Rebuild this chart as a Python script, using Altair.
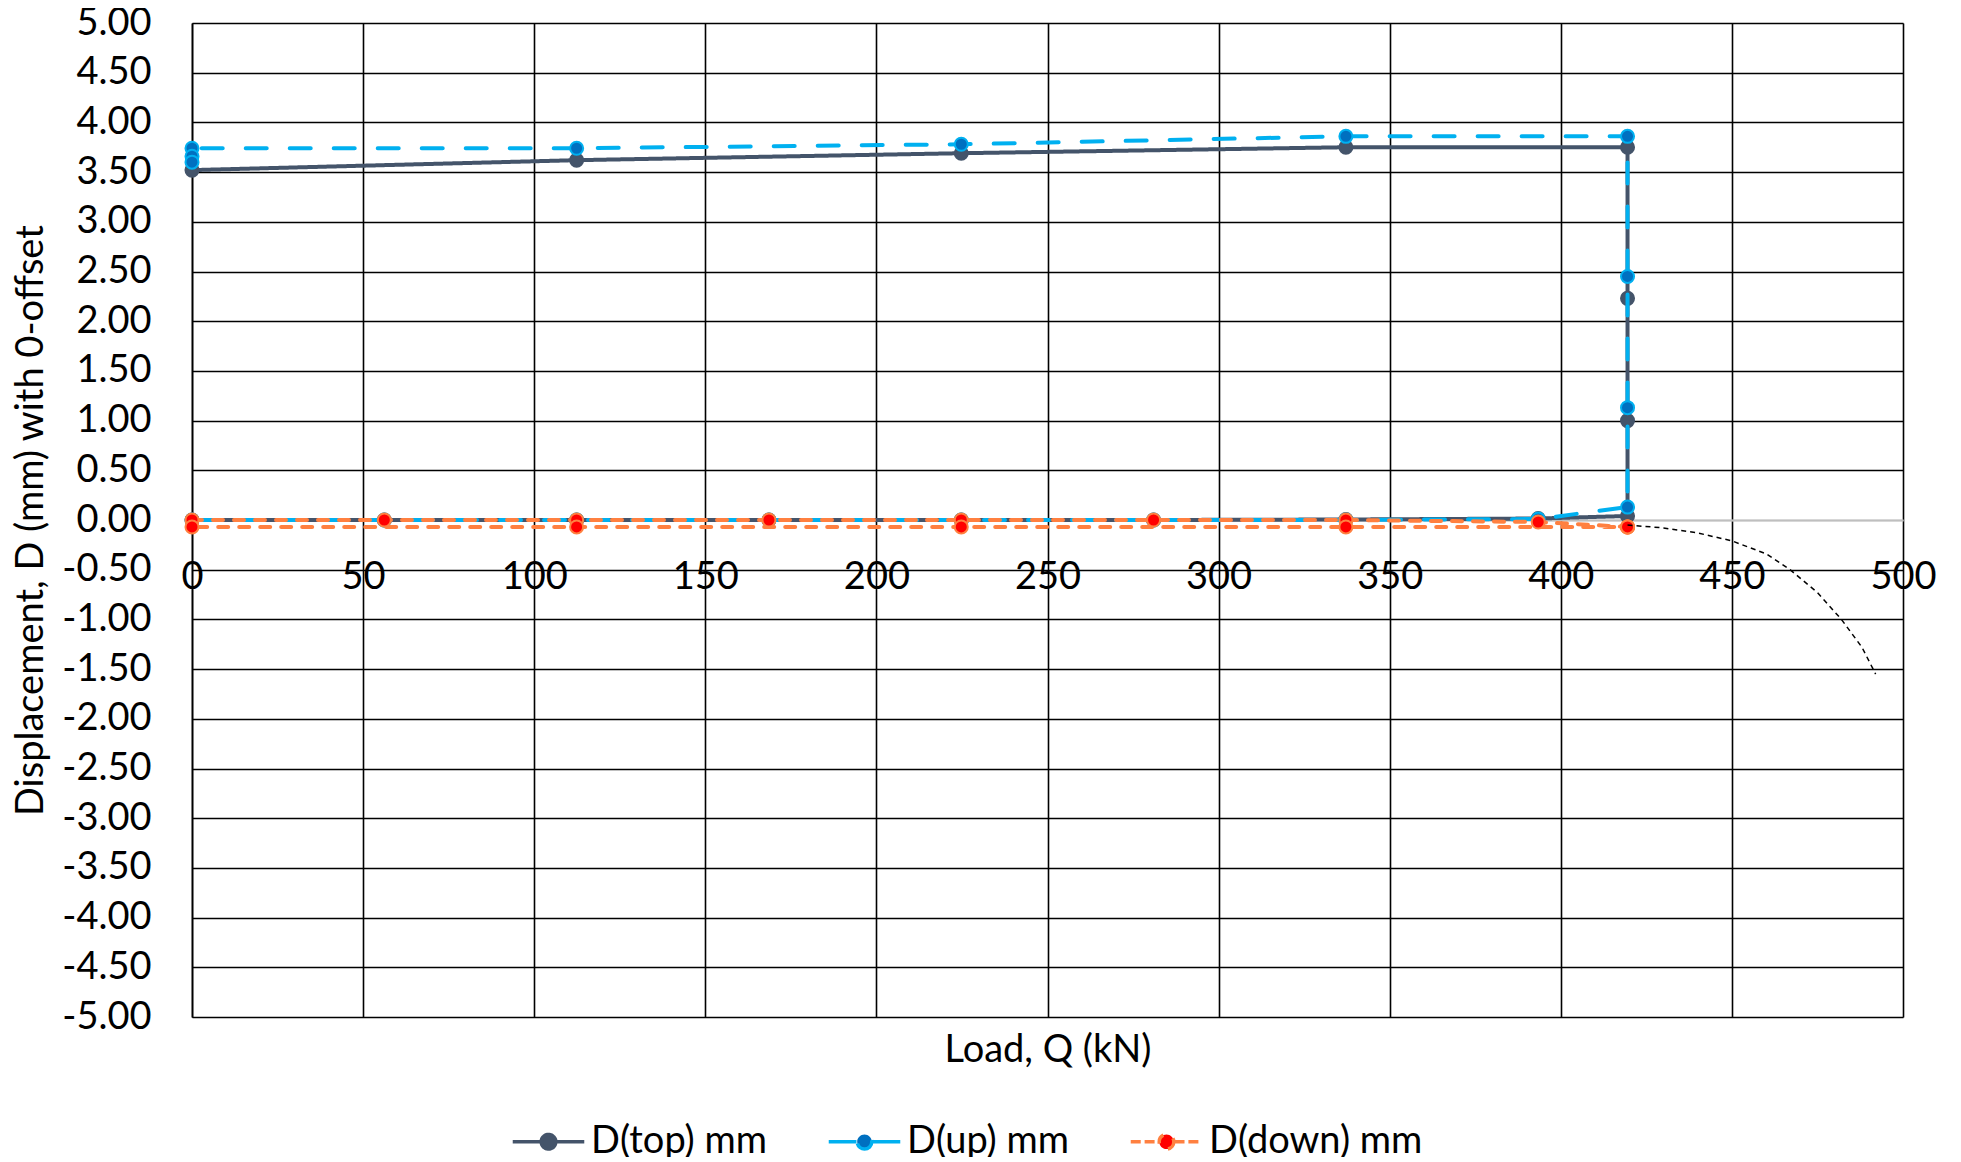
import altair as alt
import pandas as pd

# ---------------- data ----------------
SERIES = ["D(top) mm", "D(up) mm", "D(down) mm"]

TOP_LOAD = [0, 56.2, 112.4, 168.6, 224.8, 281.0, 337.2, 393.4, 419.5, 419.5, 419.5, 419.5, 337.2, 224.8, 112.4, 0]
TOP_DISP = [0, 0, 0, 0, 0, 0, 0.005, 0.015, 0.04, 1.00, 2.23, 3.75, 3.75, 3.69, 3.62, 3.52]

UP_LOAD = [0, 56.2, 112.4, 168.6, 224.8, 281.0, 337.2, 393.4, 419.5, 419.5, 419.5, 419.5, 337.2, 224.8, 112.4, 0, 0, 0]
UP_DISP = [0, 0, 0, 0, 0, 0, 0, 0.01, 0.13, 1.13, 2.45, 3.86, 3.86, 3.78, 3.74, 3.74, 3.66, 3.60]

DOWN_LOAD = [0, 56.2, 112.4, 168.6, 224.8, 281.0, 337.2, 393.4, 419.5, 419.5, 419.5, 419.5, 337.2, 224.8, 112.4, 0]
DOWN_DISP = [0, 0, 0, 0, 0, 0, 0, -0.02, -0.07, -0.07, -0.07, -0.07, -0.07, -0.07, -0.07, -0.07]

TREND_LOAD = [419.5, 430, 440, 450, 460, 467, 475, 482, 488, 492]
TREND_DISP = [-0.05, -0.08, -0.13, -0.21, -0.34, -0.50, -0.73, -1.00, -1.28, -1.55]

X_TICKS = list(range(0, 501, 50))
Y_TICKS = [v / 2 for v in range(-10, 11)]

LINE_COLORS = ["#44546A", "#00B0F0", "#FF8040"]
FILL_COLORS = ["#44546A", "#0070C0", "#FF0000"]
DASHES = [[1, 0], [21, 23], [10, 11]]

# ---------------- tables ----------------
def table(name, loads, disps):
    return pd.DataFrame({"series": name, "idx": range(len(loads)), "load": loads, "disp": disps})

frames = {
    SERIES[0]: table(SERIES[0], TOP_LOAD, TOP_DISP),
    SERIES[1]: table(SERIES[1], UP_LOAD, UP_DISP),
    SERIES[2]: table(SERIES[2], DOWN_LOAD, DOWN_DISP),
}
trend = pd.DataFrame({"idx": range(len(TREND_LOAD)), "load": TREND_LOAD, "disp": TREND_DISP})

FONT = "Lato"
FS = 38
W, H = 1711, 994

x_enc = alt.X(
    "load:Q",
    scale=alt.Scale(domain=[0, 500], nice=False, zero=False),
    axis=alt.Axis(
        values=X_TICKS, ticks=False, grid=True, gridColor="black", gridWidth=1.6,
        domainColor="#BFBFBF", domainWidth=2, offset=-H / 2,
        labelPadding=38, labelFontSize=FS, labelFont=FONT, labelColor="black",
        labelAngle=0, labelFlush=False, labelOverlap=False,
        title="Load, Q (kN)", titleFontSize=FS, titleFont=FONT, titleFontWeight="normal",
        titleColor="black", titleX=W / 2, titleY=530, titleBaseline="middle", titleAlign="center",
    ),
)
y_enc = alt.Y(
    "disp:Q",
    scale=alt.Scale(domain=[-5, 5], nice=False, zero=False),
    axis=alt.Axis(
        values=Y_TICKS, ticks=False, grid=True,
        gridColor=alt.condition("datum.value == 0", alt.value("#BFBFBF"), alt.value("black")),
        gridWidth=1.6, domainColor="black", domainWidth=1.6,
        labelExpr="replace(format(datum.value, '.2f'), '\u2212', '-')",
        labelPadding=41, labelFontSize=FS, labelFont=FONT, labelColor="black",
        labelOverlap=False, labelFlush=False,
        title="Displacement, D (mm) with 0-offset", titleFontSize=FS, titleFont=FONT,
        titleFontWeight="normal", titleColor="black", titleX=-161, titleY=H / 2,
        titleBaseline="middle", titleAngle=270, titleAlign="center",
    ),
)

# legend glyph: line - marker - line; each line side is two abutting sub-paths
# so the dash pattern restarts (solid for long dashes, "- -" for short ones)
LEGEND_PATH = (
    "M-0.98,0L-0.6,0M-0.6,0L-0.22,0"
    "M0.22,0L0.6,0M0.6,0L0.98,0"
    "M0.2,0A0.2,0.2,0,1,1,-0.2,0A0.2,0.2,0,1,1,0.2,0Z"
)

legend = alt.Legend(
    title=None, orient="none", legendX=318, legendY=1080, direction="horizontal",
    labelFontSize=FS, labelFont=FONT, labelColor="black", labelOffset=4, labelLimit=0,
    columnPadding=54, padding=0,
    symbolType=LEGEND_PATH,
    symbolSize=5329, symbolStrokeWidth=3.5, symbolOpacity=1,
)

stroke_scale = alt.Scale(domain=SERIES, range=LINE_COLORS)
fill_scale = alt.Scale(domain=SERIES, range=FILL_COLORS)
dash_scale = alt.Scale(domain=SERIES, range=DASHES)

layers = []
for name in SERIES:
    df = frames[name]
    line = alt.Chart(df).mark_line(strokeWidth=4, strokeCap="round").encode(
        x=x_enc, y=y_enc,
        stroke=alt.Stroke("series:N", scale=stroke_scale, legend=legend),
        strokeDash=alt.StrokeDash("series:N", scale=dash_scale, legend=legend),
        order=alt.Order("idx:Q"),
    )
    pts = alt.Chart(df).mark_point(shape="circle", size=170, strokeWidth=2, opacity=1, fillOpacity=1).encode(
        x=x_enc, y=y_enc,
        stroke=alt.Stroke("series:N", scale=stroke_scale, legend=legend),
        fill=alt.Fill("series:N", scale=fill_scale, legend=legend),
    )
    layers += [line, pts]

trend_line = alt.Chart(trend).mark_line(color="black", strokeWidth=1.5, strokeDash=[5, 4]).encode(
    x=x_enc, y=y_enc, order=alt.Order("idx:Q")
)
layers.append(trend_line)

chart = alt.layer(*layers).properties(
    width=W, height=H,
    autosize=alt.AutoSizeParams(type="none"),
    padding={"left": 184, "top": 15, "right": 50, "bottom": 140},
).configure_view(stroke=None).configure(background="white")

chart.save("out.html", embed_options={"renderer": "svg", "actions": False})
